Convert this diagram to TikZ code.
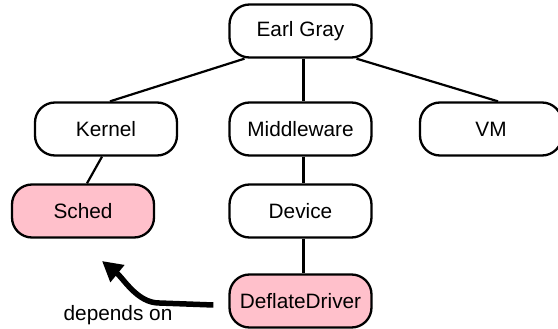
\documentclass[tikz,border=0pt]{standalone}
\usepackage{fontspec}
\setmainfont{Liberation Sans}
\usetikzlibrary{arrows.meta}
\definecolor{hilite}{RGB}{255,192,203}
\begin{document}
\begin{tikzpicture}[x=1pt,y=-1pt,
  module/.style={draw=black, line width=2.3pt, rounded corners=20pt, fill=white,
    minimum width=142pt, minimum height=53pt, inner sep=0pt,
    font=\fontsize{20.8}{24}\selectfont},
  hot/.style={module, fill=hilite},
  tree/.style={line width=2.2pt},
  dep/.style={line width=5.5pt, -{Triangle[length=20pt,width=21pt]}},
  note/.style={font=\fontsize{20.8}{24}\selectfont}]
\useasboundingbox (0,0) rectangle (558,329);
% module hierarchy
\node[module] (eg)   at (300.5,31)  {Earl Gray};
\node[module] (ker)  at (106,129)   {Kernel};
\node[module] (mid)  at (300.5,129) {Middleware};
\node[module] (vm)   at (491,129)   {VM};
\node[hot]    (sch)  at (83,211)    {Sched};
\node[module] (dev)  at (300.5,211) {Device};
\node[hot]    (dd)   at (300.5,301) {DeflateDriver};
% tree edges
\draw[tree] ([xshift=-56pt]eg.south) -- ([xshift=4pt]ker.north);
\draw[tree] ([xshift=3pt]eg.south) -- ([xshift=3pt]mid.north);
\draw[tree] ([xshift=56pt]eg.south) -- ([xshift=7pt]vm.north);
\draw[tree] ([xshift=-4pt]ker.south) -- ([xshift=4pt]sch.north);
\draw[tree] ([xshift=3pt]mid.south) -- ([xshift=3pt]dev.north);
\draw[tree] ([xshift=3pt]dev.south) -- ([xshift=3pt]dd.north);
% dependency arrow
\coordinate (tip) at (102,261);
\draw[dep] ([xshift=-15pt,yshift=-4pt]dd.west) -- ++(-54,-2)
  .. controls +(-22,0) and +(22,18) .. (tip);
\node[note] (lbl) at (118,315) {depends on};
\end{tikzpicture}
\end{document}
